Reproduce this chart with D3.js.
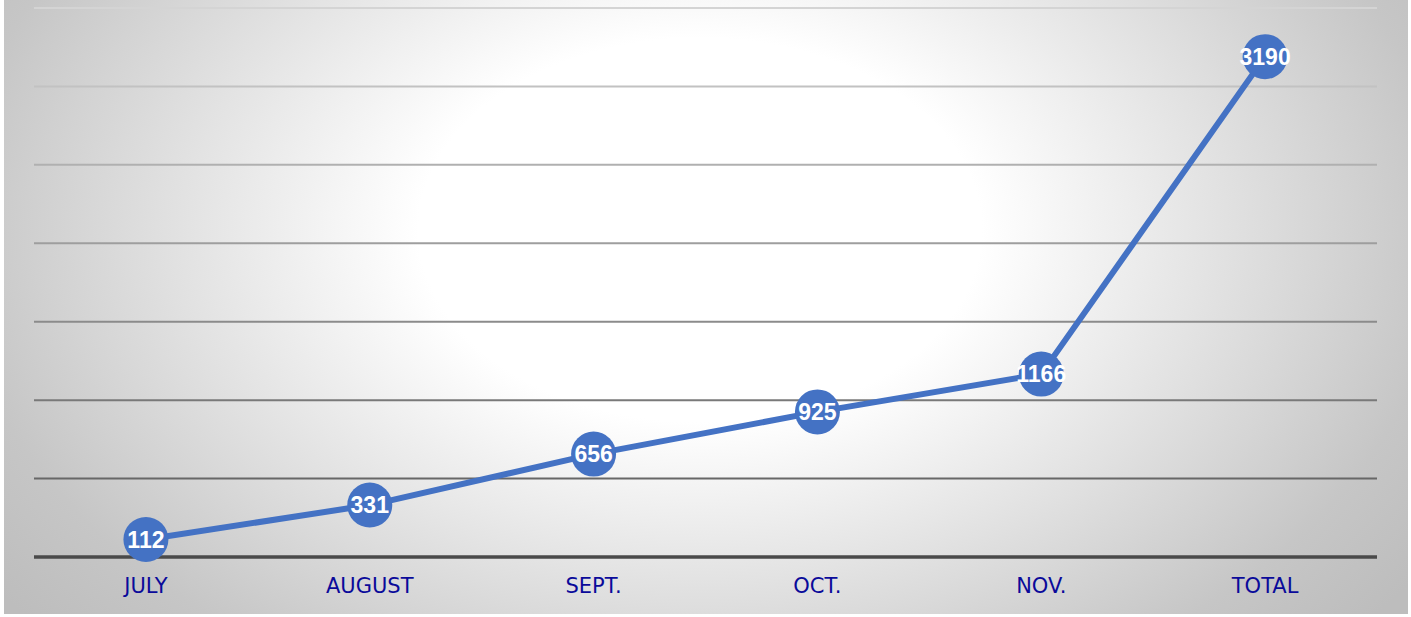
<!DOCTYPE html>
<html>
<head>
<meta charset="utf-8">
<script src="https://cdn.jsdelivr.net/npm/d3@7"></script>
<style>
  body { margin: 0; background: #fff; }
  svg { display: block; }
</style>
</head>
<body>
<div id="chart"></div>
<script>
// chart data
const months = ['JULY', 'AUGUST', 'SEPT.', 'OCT.', 'NOV.', 'TOTAL'];
const counts = [112, 331, 656, 925, 1166, 3190];
const yTicks = [0, 500, 1000, 1500, 2000, 2500, 3000, 3500];

const width = 1411, height = 617;
const margin = {top: 8, right: 34, bottom: 60, left: 34};

const svg = d3.select('#chart').append('svg')
  .attr('width', width)
  .attr('height', height);

// radial background, white in the middle and grey to the edges
const defs = svg.append('defs');
const grad = defs.append('radialGradient')
  .attr('id', 'bg')
  .attr('gradientUnits', 'userSpaceOnUse')
  .attr('cx', 0).attr('cy', 0)
  .attr('r', 1)
  .attr('gradientTransform', 'translate(700, 230) scale(880, 600)');
grad.append('stop').attr('offset', '0%').attr('stop-color', '#ffffff');
grad.append('stop').attr('offset', '32%').attr('stop-color', '#ffffff');
grad.append('stop').attr('offset', '85%').attr('stop-color', '#c6c6c6');
grad.append('stop').attr('offset', '100%').attr('stop-color', '#bdbdbd');

svg.append('rect')
  .attr('x', 4).attr('y', 0)
  .attr('width', width - 7).attr('height', height - 3)
  .attr('fill', 'url(#bg)');

const x = d3.scaleBand()
  .domain(months)
  .range([margin.left, width - margin.right]);

const y = d3.scaleLinear()
  .domain([0, 3500])
  .range([height - margin.bottom, margin.top]);

// gridlines get darker towards the bottom
const gridColor = d3.scaleLinear()
  .domain([0, 3500])
  .range(['#555555', '#d4d4d4']);

svg.append('g')
  .selectAll('line')
  .data(yTicks)
  .enter()
  .append('line')
  .attr('x1', margin.left)
  .attr('x2', width - margin.right)
  .attr('y1', d => y(d))
  .attr('y2', d => y(d))
  .attr('stroke', d => d === 0 ? '#4a4a4a' : gridColor(d))
  .attr('stroke-width', d => d === 0 ? 3.5 : 2);

// month labels
const xAxis = svg.append('g')
  .attr('transform', `translate(0, ${y(0)})`)
  .call(d3.axisBottom(x).tickSize(0).tickPadding(21));
xAxis.select('.domain').remove();
xAxis.selectAll('text')
  .attr('fill', '#0a0a9a')
  .style('font-family', 'DejaVu Sans, sans-serif')
  .style('font-size', '21px');

const cx = d => x(d) + x.bandwidth() / 2;

const line = d3.line()
  .x((d, i) => cx(months[i]))
  .y(d => y(d));

svg.append('path')
  .datum(counts)
  .attr('fill', 'none')
  .attr('stroke', '#4472c4')
  .attr('stroke-width', 6)
  .attr('stroke-linejoin', 'round')
  .attr('d', line);

const pts = svg.append('g')
  .selectAll('g')
  .data(counts)
  .enter()
  .append('g')
  .attr('transform', (d, i) => `translate(${cx(months[i])}, ${y(d)})`);

pts.append('circle')
  .attr('r', 22.5)
  .attr('fill', '#4472c4');

pts.append('text')
  .text(d => d)
  .attr('text-anchor', 'middle')
  .attr('dy', '0.36em')
  .attr('fill', '#ffffff')
  .style('font-family', 'Liberation Sans, Arial, sans-serif')
  .style('font-weight', 'bold')
  .style('font-size', '23px');
</script>
</body>
</html>
